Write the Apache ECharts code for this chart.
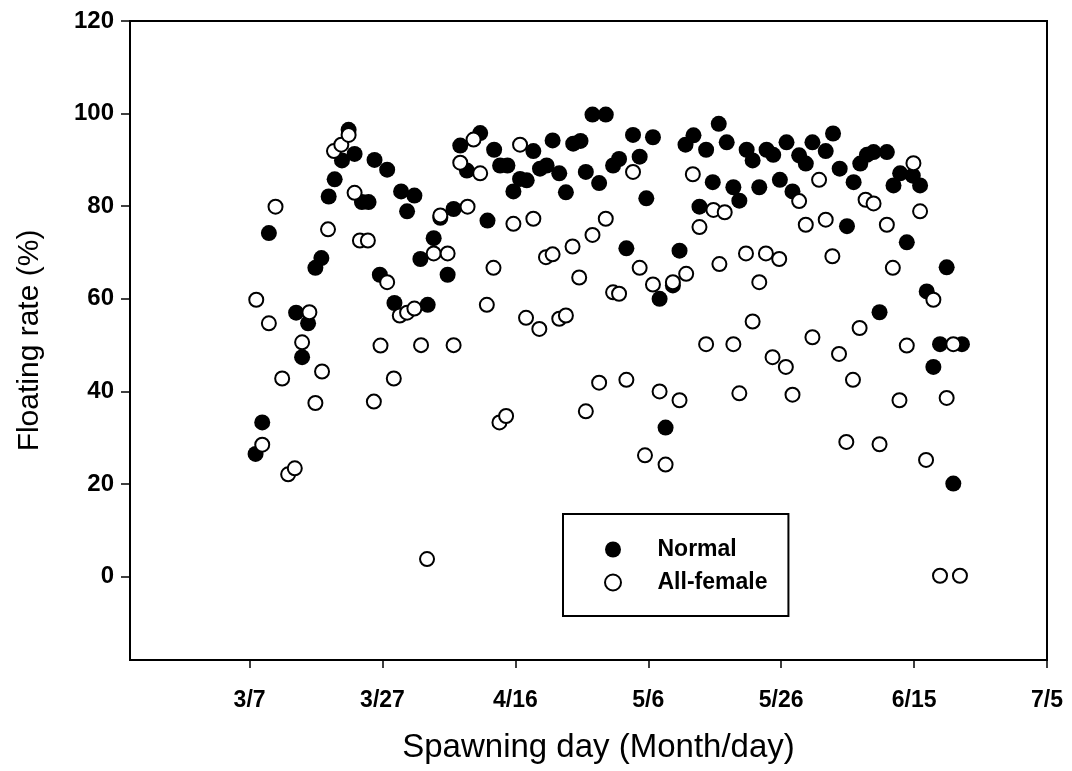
<!DOCTYPE html>
<html>
<head>
<meta charset="utf-8">
<script src="https://cdn.jsdelivr.net/npm/echarts@6/dist/echarts.min.js"></script>
<style>
  html, body { margin: 0; padding: 0; background: #fff; }
  #chart { width: 1072px; height: 771px; }
</style>
</head>
<body>
<div id="chart"></div>
<script>
// x = days after 3/7
var xTickDays = [0, 20, 40, 60, 80, 100, 120];
var xTickLabels = ['3/7', '3/27', '4/16', '5/6', '5/26', '6/15', '7/5'];
var yTicks = [0, 20, 40, 60, 80, 100, 120];

var normal = [
  [0.9,26.5],[1.9,33.3],[2.9,74.2],[7.0,57.0],[7.9,47.4],[8.8,54.7],[9.9,66.7],[10.8,68.8],
  [11.9,82.1],[12.8,85.8],[13.9,89.9],[14.9,96.5],[15.8,91.3],[16.9,80.9],[17.9,80.9],[18.8,90.0],
  [19.6,65.2],[20.7,87.9],[21.8,59.1],[22.8,83.2],[23.7,78.9],[24.8,82.3],[25.7,68.6],[26.8,58.7],
  [27.7,73.1],[28.7,77.5],[29.8,65.2],[30.7,79.4],[31.7,93.1],[32.7,87.7],[34.7,95.8],[35.8,76.9],
  [36.8,92.2],[37.7,88.8],[38.8,88.8],[39.7,83.2],[40.7,85.9],[41.7,85.6],[42.7,91.9],[43.7,88.1],
  [44.7,88.8],[45.6,94.2],[46.6,87.1],[47.6,83.0],[48.7,93.5],[49.8,94.1],[50.6,87.4],[51.6,99.8],
  [52.6,85.0],[53.6,99.8],[54.7,88.8],[55.6,90.2],[56.7,70.9],[57.7,95.4],[58.7,90.7],[59.7,81.7],
  [60.7,94.9],[61.7,60.0],[62.6,32.2],[63.7,62.9],[64.7,70.4],[65.6,93.3],[66.8,95.3],[67.7,79.9],
  [68.7,92.2],[69.7,85.2],[70.6,97.8],[71.8,93.8],[72.8,84.1],[73.7,81.2],[74.8,92.2],[75.7,89.9],
  [76.7,84.1],[77.8,92.2],[78.8,91.1],[79.8,85.7],[80.8,93.8],[81.7,83.2],[82.7,91.0],[83.7,89.2],
  [84.7,93.8],[86.7,91.9],[87.8,95.7],[88.8,88.1],[89.9,75.7],[90.9,85.2],[91.9,89.2],[92.9,91.1],
  [93.9,91.7],[94.8,57.1],[95.9,91.7],[96.9,84.5],[97.9,87.1],[98.9,72.2],[99.8,86.6],[100.9,84.5],
  [101.9,61.6],[102.9,45.3],[103.9,50.2],[104.9,66.8],[105.9,20.1],[107.2,50.2]
];

var allFemale = [
  [1.0,59.8],[1.9,28.5],[2.9,54.7],[3.9,79.9],[4.9,42.8],[5.8,22.1],[6.8,23.4],[7.9,50.6],
  [9.0,57.1],[9.9,37.5],[10.9,44.3],[11.8,75.0],[12.7,91.9],[13.8,93.3],[14.9,95.4],[15.8,82.9],
  [16.6,72.6],[17.8,72.6],[18.7,37.8],[19.7,49.9],[20.7,63.6],[21.7,42.8],[22.6,56.4],[23.7,57.0],
  [24.8,57.9],[25.8,50.0],[26.7,3.8],[27.7,69.8],[28.7,78.0],[29.8,69.8],[30.7,50.0],[31.7,89.4],
  [32.8,79.9],[33.7,94.4],[34.7,87.1],[35.7,58.7],[36.7,66.7],[37.6,33.3],[38.6,34.7],[39.7,76.2],
  [40.7,93.3],[41.6,55.9],[42.7,77.3],[43.6,53.5],[44.6,69.0],[45.6,69.6],[46.6,55.7],[47.6,56.4],
  [48.6,71.3],[49.6,64.6],[50.6,35.7],[51.6,73.8],[52.6,41.9],[53.6,77.3],[54.7,61.4],[55.6,61.1],
  [56.7,42.5],[57.7,87.4],[58.7,66.7],[59.5,26.2],[60.7,63.1],[61.7,40.0],[62.6,24.2],[63.7,63.6],
  [64.7,38.1],[65.7,65.4],[66.7,86.9],[67.7,75.5],[68.7,50.2],[69.8,79.2],[70.7,67.5],[71.5,78.7],
  [72.8,50.2],[73.7,39.6],[74.7,69.8],[75.7,55.1],[76.7,63.6],[77.7,69.8],[78.7,47.4],[79.7,68.6],
  [80.7,45.3],[81.7,39.3],[82.7,81.1],[83.7,76.0],[84.7,51.7],[85.7,85.7],[86.7,77.1],[87.7,69.2],
  [88.7,48.1],[89.8,29.1],[90.8,42.5],[91.8,53.7],[92.7,81.4],[93.9,80.6],[94.8,28.6],[95.9,76.0],
  [96.8,66.7],[97.8,38.1],[98.9,49.9],[99.9,89.3],[100.9,78.9],[101.8,25.2],[102.9,59.8],[103.9,0.2],
  [104.9,38.6],[105.9,50.2],[106.9,0.2]
];

var FONT = '"Liberation Sans", Arial, Helvetica, sans-serif';
var chart = echarts.init(document.getElementById('chart'), null, { renderer: 'canvas' });

chart.setOption({
  backgroundColor: '#fff',
  animation: false,
  grid: {
    left: 130, right: 25, top: 21, bottom: 111,
    show: true, borderColor: '#000', borderWidth: 2, backgroundColor: 'transparent'
  },
  legend: {
    orient: 'vertical',
    left: 563, top: 514,
    padding: [24, 21, 22, 41],
    borderColor: '#000', borderWidth: 2,
    itemWidth: 79, itemHeight: 16, itemGap: 10,
    textStyle: { fontFamily: FONT, fontSize: 23, fontWeight: 'bold', color: '#000', lineHeight: 20 },
    data: ['Normal', 'All-female']
  },
  xAxis: {
    type: 'value',
    min: -18, max: 120,
    name: 'Spawning day (Month/day)',
    nameLocation: 'middle',
    nameGap: 71,
    nameTextStyle: { fontFamily: FONT, fontSize: 33, color: '#000', padding: [0, 0, 0, 20] },
    axisLine: { show: true, onZero: false, lineStyle: { color: '#000', width: 2 } },
    axisTick: { show: true, inside: false, length: 8, lineStyle: { color: '#000', width: 1.5 }, customValues: xTickDays },
    axisLabel: {
      show: true, margin: 29, color: '#000', fontFamily: FONT, fontSize: 23, fontWeight: 'bold',
      customValues: xTickDays,
      formatter: function (v) { var i = xTickDays.indexOf(v); return i >= 0 ? xTickLabels[i] : ''; }
    },
    splitLine: { show: false }
  },
  yAxis: {
    type: 'value',
    min: -18, max: 120,
    name: 'Floating rate (%)',
    nameLocation: 'middle',
    nameGap: 85,
    nameTextStyle: { fontFamily: FONT, fontSize: 30, color: '#000' },
    axisLine: { show: true, onZero: false, lineStyle: { color: '#000', width: 2 } },
    axisTick: { show: true, inside: false, length: 9, lineStyle: { color: '#000', width: 1.5 }, customValues: yTicks },
    axisLabel: {
      show: true, margin: 16, color: '#000', fontFamily: FONT, fontSize: 24, fontWeight: 'bold',
      customValues: yTicks
    },
    splitLine: { show: false }
  },
  series: [
    {
      name: 'Normal',
      type: 'scatter',
      symbol: 'circle',
      symbolSize: 16,
      itemStyle: { color: '#000', borderColor: '#000', borderWidth: 0, opacity: 1 },
      data: normal
    },
    {
      name: 'All-female',
      type: 'scatter',
      symbol: 'circle',
      symbolSize: 14,
      itemStyle: { color: '#fff', borderColor: '#000', borderWidth: 2, opacity: 1 },
      data: allFemale
    }
  ]
});
</script>
</body>
</html>
